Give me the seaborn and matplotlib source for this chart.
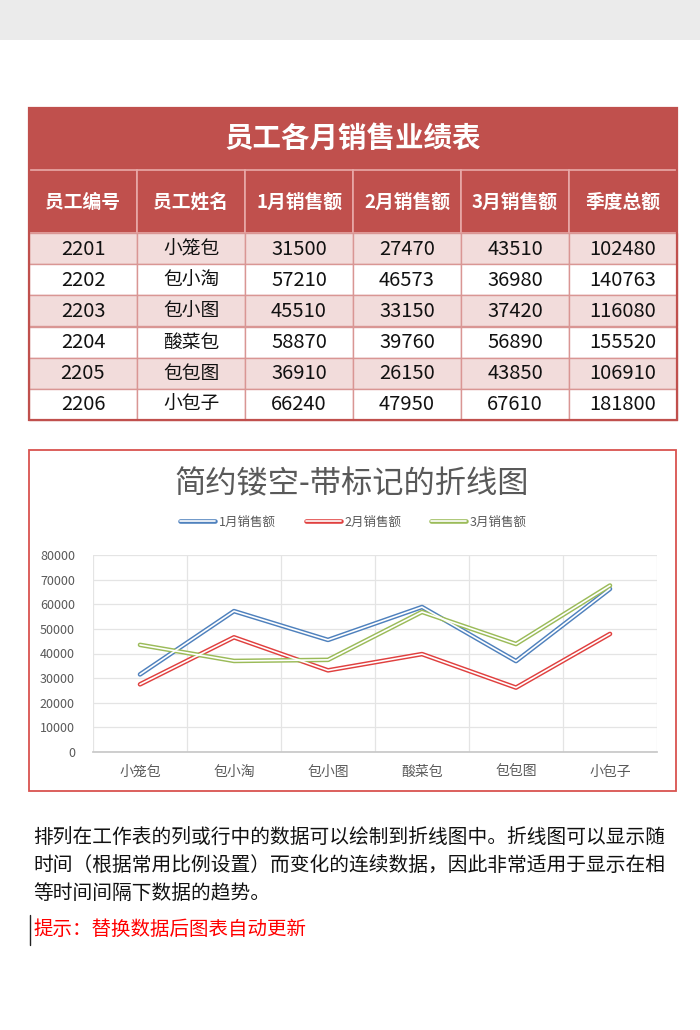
import numpy as np
import pandas as pd
import matplotlib
matplotlib.use('Agg')
import matplotlib.pyplot as plt
from matplotlib.patches import Rectangle
from matplotlib.lines import Line2D
from matplotlib.legend_handler import HandlerTuple
import seaborn as sns

# table / chart data
table_title = '员工各月销售业绩表'
header_labels = ['员工编号', '员工姓名', '1月销售额', '2月销售额', '3月销售额', '季度总额']
employee_ids = ['2201', '2202', '2203', '2204', '2205', '2206']
employee_names = ['小笼包', '包小淘', '包小图', '酸菜包', '包包图', '小包子']
jan_sales = [31500, 57210, 45510, 58870, 36910, 66240]
feb_sales = [27470, 46573, 33150, 39760, 26150, 47950]
mar_sales = [43510, 36980, 37420, 56890, 43850, 67610]
quarter_totals = [102480, 140763, 116080, 155520, 106910, 181800]

chart_title = '简约镂空-带标记的折线图'
series_labels = ['1月销售额', '2月销售额', '3月销售额']
series_colors = ['#4f81bd', '#e0403f', '#9bbb59']
y_ticks = [0, 10000, 20000, 30000, 40000, 50000, 60000, 70000, 80000]

note_lines = [
    '排列在工作表的列或行中的数据可以绘制到折线图中。折线图可以显示随',
    '时间（根据常用比例设置）而变化的连续数据，因此非常适用于显示在相',
    '等时间间隔下数据的趋势。',
]
hint_text = '提示：替换数据后图表自动更新'


def draw_table(bg):
    col_edges = np.linspace(29, 677, 7)
    row_edges = np.linspace(233, 420, 7)
    left, right = col_edges[0], col_edges[-1]

    # title row
    bg.add_patch(Rectangle((left, 108), right - left, 62, fc='#c0504d', ec='none'))
    bg.text((left + right) / 2, 139, table_title, color='white', fontsize=20.5,
            fontweight='bold', ha='center', va='center')

    # header row
    for i, label in enumerate(header_labels):
        x0, x1 = col_edges[i], col_edges[i + 1]
        bg.add_patch(Rectangle((x0, 170), x1 - x0, 63, fc='#c0504d',
                               ec='#e8a9a8', lw=1.2))
        bg.text((x0 + x1) / 2, 202, label, color='white', fontsize=13.5,
                fontweight='bold', ha='center', va='center')

    # data rows
    rows = list(zip(employee_ids, employee_names, jan_sales, feb_sales,
                    mar_sales, quarter_totals))
    for r, row in enumerate(rows):
        y0, y1 = row_edges[r], row_edges[r + 1]
        fill = '#f2dcdb' if r % 2 == 0 else 'white'
        for i, val in enumerate(row):
            x0, x1 = col_edges[i], col_edges[i + 1]
            bg.add_patch(Rectangle((x0, y0), x1 - x0, y1 - y0, fc=fill,
                                   ec='#d99694', lw=1.0))
            size = 13.5 if i == 1 else 14.5
            bg.text((x0 + x1) / 2, (y0 + y1) / 2 + 0.5, str(val), color='#111111',
                    fontsize=size, ha='center', va='center')

    bg.add_patch(Rectangle((left, 108), right - left, 420 - 108, fill=False,
                           ec='#c0504d', lw=1.6))


def draw_chart(fig, bg):
    bg.add_patch(Rectangle((29, 450), 647, 341, fill=False, ec='#d9534f', lw=1.3))
    bg.text(352, 484, chart_title, color='#595959', fontsize=22.5,
            ha='center', va='center')

    ax = fig.add_axes([93 / 700, 1 - 752 / 1030, 564 / 700, 197 / 1030])
    ax.patch.set_alpha(0)

    df = pd.DataFrame({
        'name': employee_names * 3,
        'sales': jan_sales + feb_sales + mar_sales,
        'month': [m for m in series_labels for _ in employee_names],
    })
    palette = dict(zip(series_labels, series_colors))
    sns.lineplot(data=df, x='name', y='sales', hue='month', palette=palette,
                 lw=3.3, sort=False, errorbar=None, legend=False, ax=ax)
    # white core makes the line look hollow
    sns.lineplot(data=df, x='name', y='sales', hue='month',
                 palette={m: 'white' for m in series_labels},
                 lw=1.2, sort=False, errorbar=None, legend=False, ax=ax)

    ax.set_xlim(-0.5, 5.5)
    ax.set_ylim(0, 80000)
    ax.set_yticks(y_ticks)
    ax.set_yticklabels([str(v) for v in y_ticks])
    ax.set_xticks(range(len(employee_names)))
    ax.set_xticklabels(employee_names)
    ax.set_xticks(np.arange(-0.5, 6, 1), minor=True)
    ax.set_xlabel('')
    ax.set_ylabel('')
    ax.grid(axis='y', which='major', color='#e4e4e4', lw=0.9)
    ax.grid(axis='x', which='minor', color='#e4e4e4', lw=0.9)
    ax.grid(axis='x', which='major', visible=False)
    ax.set_axisbelow(True)
    for side in ['top', 'right', 'left']:
        ax.spines[side].set_visible(False)
    ax.spines['bottom'].set_color('#c8c8c8')
    ax.tick_params(axis='y', length=0, pad=13, labelsize=9, labelcolor='#595959')
    ax.tick_params(axis='x', which='both', length=0, pad=9, labelsize=10,
                   labelcolor='#595959')

    handles = []
    for c in series_colors:
        handles.append((Line2D([], [], color=c, lw=3.3),
                        Line2D([], [], color='white', lw=1.2)))
    fig.legend(handles, series_labels, loc='center', bbox_to_anchor=(0.505, 1 - 522 / 1030),
               ncol=3, frameon=False, fontsize=9, labelcolor='#595959',
               handlelength=2.8, handletextpad=0.3, columnspacing=2.4,
               handler_map={tuple: HandlerTuple(ndivide=1)})


def draw_notes(bg):
    for i, line in enumerate(note_lines):
        bg.text(33, 838 + i * 27.5, line, color='#111111', fontsize=14.2,
                ha='left', va='center')
    bg.text(33, 929, hint_text, color='#ff0000', fontsize=14, ha='left', va='center')
    bg.plot([29.5, 29.5], [915, 945], color='#222222', lw=1.0)


def main():
    sns.set_theme(style='white')
    plt.rcParams['font.family'] = ['Noto Sans CJK SC', 'DejaVu Sans']

    fig = plt.figure(figsize=(7, 10.3), dpi=100)
    fig.patch.set_facecolor('white')
    bg = fig.add_axes([0, 0, 1, 1])
    bg.set_xlim(0, 700)
    bg.set_ylim(1030, 0)
    bg.axis('off')

    # grey band at the very top
    bg.add_patch(Rectangle((0, 0), 700, 40, fc='#ebebeb', ec='none'))

    draw_table(bg)
    draw_chart(fig, bg)
    draw_notes(bg)

    fig.savefig('out.png', dpi=100)


main()
